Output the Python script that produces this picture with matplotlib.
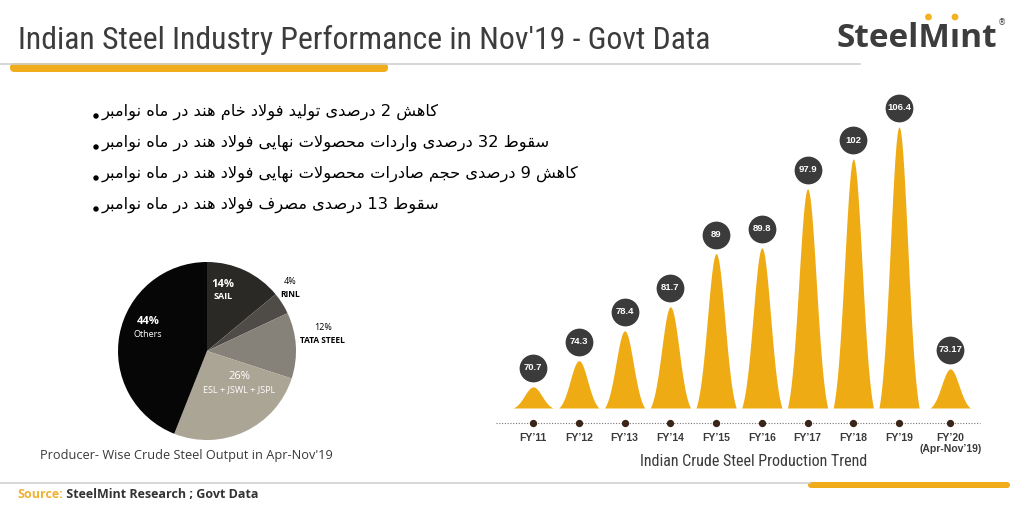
import matplotlib
matplotlib.use("Agg")
import matplotlib.pyplot as plt
import numpy as np
from matplotlib import font_manager
from matplotlib.patches import Circle, FancyBboxPatch
from matplotlib.transforms import offset_copy

# ---- data -------------------------------------------------------------
years = ["FY’11", "FY’12", "FY’13", "FY’14", "FY’15", "FY’16",
         "FY’17", "FY’18", "FY’19", "FY’20\n(Apr-Nov’19)"]
production = [70.7, 74.3, 78.4, 81.7, 89, 89.8, 97.9, 102, 106.4, 73.17]

producers = ["SAIL", "RINL", "TATA STEEL", "ESL + JSWL + JSPL", "Others"]
shares = [14, 4, 12, 26, 44]

headlines = [
    "کاهش 2 درصدی تولید فولاد خام هند در ماه نوامبر",
    "سقوط 32 درصدی واردات محصولات نهایی فولاد هند در ماه نوامبر",
    "کاهش 9 درصدی حجم صادرات محصولات نهایی فولاد هند در ماه نوامبر",
    "سقوط 13 درصدی مصرف فولاد هند در ماه نوامبر",
]

# ---- arabic script: matplotlib has no shaping, so do it by hand ---------
FORMS = {  # isolated, final, initial, medial
    "ا": ("\uFE8D", "\uFE8E", None, None),
    "ب": ("\uFE8F", "\uFE90", "\uFE91", "\uFE92"),
    "ت": ("\uFE95", "\uFE96", "\uFE97", "\uFE98"),
    "ج": ("\uFE9D", "\uFE9E", "\uFE9F", "\uFEA0"),
    "ح": ("\uFEA1", "\uFEA2", "\uFEA3", "\uFEA4"),
    "خ": ("\uFEA5", "\uFEA6", "\uFEA7", "\uFEA8"),
    "د": ("\uFEA9", "\uFEAA", None, None),
    "ر": ("\uFEAD", "\uFEAE", None, None),
    "س": ("\uFEB1", "\uFEB2", "\uFEB3", "\uFEB4"),
    "ش": ("\uFEB5", "\uFEB6", "\uFEB7", "\uFEB8"),
    "ص": ("\uFEB9", "\uFEBA", "\uFEBB", "\uFEBC"),
    "ط": ("\uFEC1", "\uFEC2", "\uFEC3", "\uFEC4"),
    "ف": ("\uFED1", "\uFED2", "\uFED3", "\uFED4"),
    "ق": ("\uFED5", "\uFED6", "\uFED7", "\uFED8"),
    "ک": ("\uFB8E", "\uFB8F", "\uFB90", "\uFB91"),
    "ل": ("\uFEDD", "\uFEDE", "\uFEDF", "\uFEE0"),
    "م": ("\uFEE1", "\uFEE2", "\uFEE3", "\uFEE4"),
    "ن": ("\uFEE5", "\uFEE6", "\uFEE7", "\uFEE8"),
    "ه": ("\uFEE9", "\uFEEA", "\uFEEB", "\uFEEC"),
    "و": ("\uFEED", "\uFEEE", None, None),
    "ی": ("\uFBFC", "\uFBFD", "\uFBFE", "\uFBFF"),
}


def shape_word(word):
    res = []
    joined = False
    i = 0
    while i < len(word):
        c = word[i]
        if c == "ل" and i + 1 < len(word) and word[i + 1] == "ا":
            res.append("\uFEFC" if joined else "\uFEFB")
            joined = False
            i += 2
            continue
        iso, fin, ini, med = FORMS[c]
        nxt = word[i + 1] if i + 1 < len(word) else None
        links = ini is not None and nxt in FORMS
        if joined and links:
            res.append(med)
        elif joined:
            res.append(fin)
        elif links:
            res.append(ini)
        else:
            res.append(iso)
        joined = links
        i += 1
    return "".join(reversed(res))


def rtl(text):
    return " ".join(shape_word(w) if w[0] in FORMS else w
                    for w in reversed(text.split()))


avail = {f.name for f in font_manager.fontManager.ttflist}
narrow = next((n for n in ["Liberation Sans Narrow", "Roboto Condensed",
                           "Open Sans Condensed"] if n in avail), "Open Sans")

fig = plt.figure(figsize=(10.24, 5.12), dpi=100)
bg = fig.add_axes([0, 0, 1, 1])
bg.set_xlim(0, 1024)
bg.set_ylim(512, 0)
bg.axis("off")
renderer = fig.canvas.get_renderer()


def fit(t, width):
    w = t.get_window_extent(renderer).width
    t.set_fontsize(t.get_fontsize() * width / w)
    return t


# ---- header -------------------------------------------------------------
title = bg.text(18, 49, "Indian Steel Industry Performance in Nov'19 - Govt Data",
                family=narrow, fontsize=20, color="#3c3c3c", va="baseline")
fit(title, 692)
bg.plot([0, 860], [63.5, 63.5], color="#d0d0d0", lw=1.2)
bg.add_patch(FancyBboxPatch((10, 63), 378, 9, boxstyle="round,pad=0,rounding_size=4.5",
                            color="#F0AC1A", lw=0))

logo = bg.text(836, 47, "SteelM\u0131nt", family="Open Sans", weight="bold",
               fontsize=22, color="#3d3d3d", va="baseline")
fit(logo, 160)


def prefix_w(s):
    t = bg.text(836, 47, s, fontproperties=logo.get_fontproperties())
    w = t.get_window_extent(renderer).width
    t.remove()
    return w


w5, w6, w7 = prefix_w("Steel"), prefix_w("SteelM"), prefix_w("SteelM\u0131")
bg.add_patch(Circle((836 + w5 + 0.32 * (w6 - w5), 17), 3.4, color="#F4B223", lw=0))
bg.add_patch(Circle((836 + (w6 + w7) / 2, 17), 3.4, color="#F4B223", lw=0))
bg.text(998, 23, "®", fontsize=6, color="#3d3d3d", ha="left", va="center")

# ---- persian bullets ----------------------------------------------------
lines = []
for i, line in enumerate(headlines):
    y = 112 + i * 31
    lines.append(bg.text(102, y, rtl(line), fontsize=12, va="center",
                         color="black", family="DejaVu Sans"))
    bg.add_patch(Circle((96, y + 4), 2.7, color="black", lw=0))
widest = max(t.get_window_extent(renderer).width for t in lines)
for t in lines:
    t.set_fontsize(12 * 476 / widest)

# ---- producer pie -------------------------------------------------------
cx, cy, r = 207, 351, 89
pax = fig.add_axes([(cx - r) / 1024, (512 - cy - r) / 512, 2 * r / 1024, 2 * r / 512])
pie_colors = ["#2b2926", "#4f4c48", "#86827a", "#aaa595", "#060606"]
pax.pie(shares, colors=pie_colors, startangle=90, counterclock=False,
        wedgeprops=dict(linewidth=0))
pax.set_xlim(-1, 1)
pax.set_ylim(-1, 1)

label_xy = [(0.18, 0.68), (0.93, 0.71), (1.30, 0.19), (0.36, -0.36), (-0.66, 0.26)]
label_col = ["white", "black", "black", "white", "white"]
pct_bold = [True, False, False, False, True]
name_bold = [True, True, True, False, False]
for name, s, (lx, ly), col, pb, nb in zip(producers, shares, label_xy, label_col,
                                          pct_bold, name_bold):
    pax.text(lx, ly + 0.07, f"{s}%", ha="center", va="center", color=col,
             fontsize=8 if col == "white" else 6.5, family="Open Sans",
             weight="bold" if pb else "normal")
    pax.text(lx, ly - 0.07, name, ha="center", va="center", color=col,
             fontsize=6.5 if col == "white" else 6, family="Open Sans",
             weight="bold" if nb else "normal")

cap = bg.text(40, 455, "Producer- Wise Crude Steel Output in Apr-Nov'19",
              family="Open Sans", fontsize=9, color="#3a3a3a", va="center")
fit(cap, 295)

# ---- production bells ---------------------------------------------------
n = len(production)
pos = np.arange(n) + np.where(np.arange(n) == n - 1, 0.12, 0.0)
base, ppu = 67.8, 7.28
floor = base - 15 / ppu
bax = fig.add_axes([492 / 1024, (512 - 423) / 512, 488 / 1024, 353 / 512])
bax.set_xlim(-0.9, n - 0.23)
bax.set_ylim(floor, floor + 353 / ppu)
bax.patch.set_alpha(0)

dx = np.linspace(-0.44, 0.44, 301)
g = np.exp(-0.5 * (dx / 0.19) ** 2)
bell = (g - g[0]) / (1 - g[0])
for x, v in zip(pos, production):
    bax.fill_between(x + dx, base, base + (v - base) * bell, color="#EFAB14", lw=0)

up = offset_copy(bax.transData, fig=fig, y=19, units="dots")
bax.scatter(pos, production, s=400, color="#3b3b3b", transform=up,
            clip_on=False, zorder=3, lw=0)
for x, v in zip(pos, production):
    bax.text(x, v, f"{v:g}", transform=up, ha="center", va="center",
             color="white", fontsize=6.8, weight="bold",
             family="Liberation Sans", zorder=4)

bax.plot([-0.82, n - 0.23], [floor, floor], ls=(0, (1, 1.5)), color="#777777",
         lw=0.8, clip_on=False)
bax.scatter(pos, np.full(n, floor), s=18, color="#3a2519", zorder=4, clip_on=False)
bax.set_xticks(pos, years)
bax.set_yticks([])
bax.tick_params(axis="x", length=0, pad=7, labelsize=7.5, labelcolor="#3a3a3a")
for lab in bax.get_xticklabels():
    lab.set_fontweight("bold")
    lab.set_family("Liberation Sans")
for sp in bax.spines.values():
    sp.set_visible(False)

trend = bg.text(754, 461, "Indian Crude Steel Production Trend", family=narrow,
                fontsize=12, color="#3a3a3a", ha="center", va="center")
fit(trend, 228)

# ---- footer -------------------------------------------------------------
bg.plot([0, 810], [483, 483], color="#d0d0d0", lw=1.2)
bg.add_patch(FancyBboxPatch((808, 482), 202, 6, boxstyle="round,pad=0,rounding_size=3",
                            color="#F0AC1A", lw=0))
src = bg.text(17, 498, "Source:", family="Open Sans", weight="bold",
              fontsize=9, color="#F0B030", va="baseline")
bg.annotate(" SteelMint Research ; Govt Data", xy=(1, 0), xycoords=src,
            va="bottom", ha="left", family="Open Sans", weight="bold",
            fontsize=9, color="#333333")

fig.savefig("out.png", dpi=100, facecolor="white")
